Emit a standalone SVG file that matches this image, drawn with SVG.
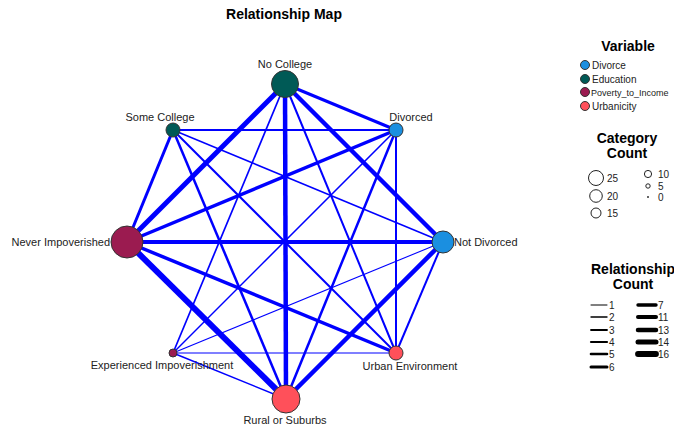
<svg xmlns="http://www.w3.org/2000/svg" width="674" height="429" viewBox="0 0 674 429">
  <style>
    text { font-family: "Liberation Sans", Arial, sans-serif; fill: #222; }
    .title { font-size: 14px; font-weight: bold; fill: #000; text-anchor: middle; }
    .lbl { font-size: 11px; }
    .leg { font-size: 10px; }
    .edge { stroke: #0000ff; stroke-linecap: butt; fill: none; }
    .node { stroke: #333; stroke-width: 1; }
    .divorce { fill: #1b8fe0; }
    .education { fill: #005a56; }
    .poverty { fill: #9b1b50; }
    .urban { fill: #ff505a; }
    .lw { stroke: #000; stroke-linecap: round; }
    .cc { fill: none; stroke: #222; stroke-width: 1; }
  </style>

  <rect width="674" height="429" fill="#ffffff"/>

  <text class="title" x="284" y="19">Relationship Map</text>

  <!-- connectors -->
  <g id="edges">
    <!-- No College -->
    <line class="edge" x1="285" y1="84" x2="396" y2="130" stroke-width="3"/>
    <line class="edge" x1="285" y1="84" x2="443" y2="242" stroke-width="4.5"/>
    <line class="edge" x1="285" y1="84" x2="127" y2="242" stroke-width="5"/>
    <line class="edge" x1="285" y1="84" x2="173" y2="353" stroke-width="1.7"/>
    <line class="edge" x1="285" y1="84" x2="286" y2="399" stroke-width="4.5"/>
    <line class="edge" x1="285" y1="84" x2="396" y2="353" stroke-width="2"/>
    <!-- Some College -->
    <line class="edge" x1="173" y1="130" x2="396" y2="130" stroke-width="1.8"/>
    <line class="edge" x1="173" y1="130" x2="443" y2="242" stroke-width="1.5"/>
    <line class="edge" x1="173" y1="130" x2="127" y2="242" stroke-width="3"/>
    <line class="edge" x1="173" y1="130" x2="396" y2="353" stroke-width="2"/>
    <line class="edge" x1="173" y1="130" x2="286" y2="399" stroke-width="2.5"/>
    <!-- Divorced -->
    <line class="edge" x1="396" y1="130" x2="127" y2="242" stroke-width="3.5"/>
    <line class="edge" x1="396" y1="130" x2="173" y2="353" stroke-width="1.5"/>
    <line class="edge" x1="396" y1="130" x2="286" y2="399" stroke-width="2.5"/>
    <line class="edge" x1="396" y1="130" x2="396" y2="353" stroke-width="2"/>
    <!-- Not Divorced -->
    <line class="edge" x1="443" y1="242" x2="127" y2="242" stroke-width="4"/>
    <line class="edge" x1="443" y1="242" x2="173" y2="353" stroke-width="1.1"/>
    <line class="edge" x1="443" y1="242" x2="286" y2="399" stroke-width="4.5"/>
    <line class="edge" x1="443" y1="242" x2="396" y2="353" stroke-width="2"/>
    <!-- Never Impoverished -->
    <line class="edge" x1="127" y1="242" x2="286" y2="399" stroke-width="6"/>
    <line class="edge" x1="127" y1="242" x2="396" y2="353" stroke-width="3.5"/>
    <!-- Experienced Impoverishment -->
    <line class="edge" x1="173" y1="353" x2="396" y2="353" stroke-width="1.1"/>
    <line class="edge" x1="173" y1="353" x2="286" y2="399" stroke-width="1.5"/>
  </g>

  <!-- nodes -->
  <g id="node-no-college">
    <circle class="node education" cx="285" cy="84" r="13.5"/>
    <text class="lbl" x="285" y="68" text-anchor="middle">No College</text>
  </g>
  <g id="node-some-college">
    <circle class="node education" cx="173" cy="130" r="7"/>
    <text class="lbl" x="160" y="121" text-anchor="middle">Some College</text>
  </g>
  <g id="node-divorced">
    <circle class="node divorce" cx="396" cy="130" r="7"/>
    <text class="lbl" x="411" y="121" text-anchor="middle">Divorced</text>
  </g>
  <g id="node-not-divorced">
    <circle class="node divorce" cx="443" cy="242" r="11"/>
    <text class="lbl" x="454" y="246">Not Divorced</text>
  </g>
  <g id="node-never-impoverished">
    <circle class="node poverty" cx="127" cy="242" r="16"/>
    <text class="lbl" x="110" y="246" text-anchor="end">Never Impoverished</text>
  </g>
  <g id="node-experienced-impoverishment">
    <circle class="node poverty" cx="173" cy="353" r="4"/>
    <text class="lbl" x="162" y="369" text-anchor="middle">Experienced Impoverishment</text>
  </g>
  <g id="node-urban-environment">
    <circle class="node urban" cx="396" cy="353" r="7"/>
    <text class="lbl" x="410" y="370" text-anchor="middle">Urban Environment</text>
  </g>
  <g id="node-rural-or-suburbs">
    <circle class="node urban" cx="286" cy="399" r="14"/>
    <text class="lbl" x="285" y="424" text-anchor="middle">Rural or Suburbs</text>
  </g>

  <!-- legend: variable -->
  <g id="legend-variable">
    <text class="title" x="628" y="51">Variable</text>
    <circle class="node divorce" cx="585" cy="65" r="4.5"/>
    <text class="leg" x="592" y="68.5">Divorce</text>
    <circle class="node education" cx="585" cy="79" r="4.5"/>
    <text class="leg" x="592" y="82.5">Education</text>
    <circle class="node poverty" cx="585" cy="92" r="4.5"/>
    <text class="leg" x="591" y="95.5" style="font-size:9px">Poverty_to_Income</text>
    <circle class="node urban" cx="585" cy="106" r="4.5"/>
    <text class="leg" x="592" y="109.5">Urbanicity</text>
  </g>

  <!-- legend: category count -->
  <g id="legend-category">
    <text class="title" x="627" y="143">Category</text>
    <text class="title" x="627" y="158">Count</text>
    <circle class="cc" cx="596" cy="178" r="7.5"/>
    <text class="leg" x="607" y="182">25</text>
    <circle class="cc" cx="596" cy="196" r="6.3"/>
    <text class="leg" x="607" y="200">20</text>
    <circle class="cc" cx="596" cy="213" r="5"/>
    <text class="leg" x="607" y="217">15</text>
    <circle class="cc" cx="648" cy="174" r="3.6"/>
    <text class="leg" x="658" y="178">10</text>
    <circle class="cc" cx="648" cy="186" r="2.2"/>
    <text class="leg" x="658" y="190">5</text>
    <circle cx="648" cy="197" r="1" fill="#333"/>
    <text class="leg" x="658" y="201">0</text>
  </g>

  <!-- legend: relationship count -->
  <g id="legend-relationship">
    <text class="title" x="633" y="274">Relationship</text>
    <text class="title" x="633" y="289">Count</text>
    <line class="lw" x1="591" y1="305" x2="607" y2="305" stroke-width="1"/>
    <text class="leg" x="609" y="309">1</text>
    <line class="lw" x1="591" y1="317" x2="607" y2="317" stroke-width="1.4"/>
    <text class="leg" x="609" y="321">2</text>
    <line class="lw" x1="591" y1="330" x2="607" y2="330" stroke-width="1.8"/>
    <text class="leg" x="609" y="334">3</text>
    <line class="lw" x1="591" y1="342" x2="607" y2="342" stroke-width="2.2"/>
    <text class="leg" x="609" y="346">4</text>
    <line class="lw" x1="591" y1="354" x2="607" y2="354" stroke-width="2.6"/>
    <text class="leg" x="609" y="358">5</text>
    <line class="lw" x1="591" y1="367" x2="607" y2="367" stroke-width="3"/>
    <text class="leg" x="609" y="371">6</text>
    <line class="lw" x1="638" y1="305" x2="656" y2="305" stroke-width="3.4"/>
    <text class="leg" x="658" y="309">7</text>
    <line class="lw" x1="638" y1="317" x2="656" y2="317" stroke-width="4"/>
    <text class="leg" x="658" y="321">11</text>
    <line class="lw" x1="638" y1="330" x2="656" y2="330" stroke-width="4.5"/>
    <text class="leg" x="658" y="334">13</text>
    <line class="lw" x1="638" y1="342" x2="656" y2="342" stroke-width="5"/>
    <text class="leg" x="658" y="346">14</text>
    <line class="lw" x1="638" y1="354" x2="656" y2="354" stroke-width="5.8"/>
    <text class="leg" x="658" y="358">16</text>
  </g>
</svg>
